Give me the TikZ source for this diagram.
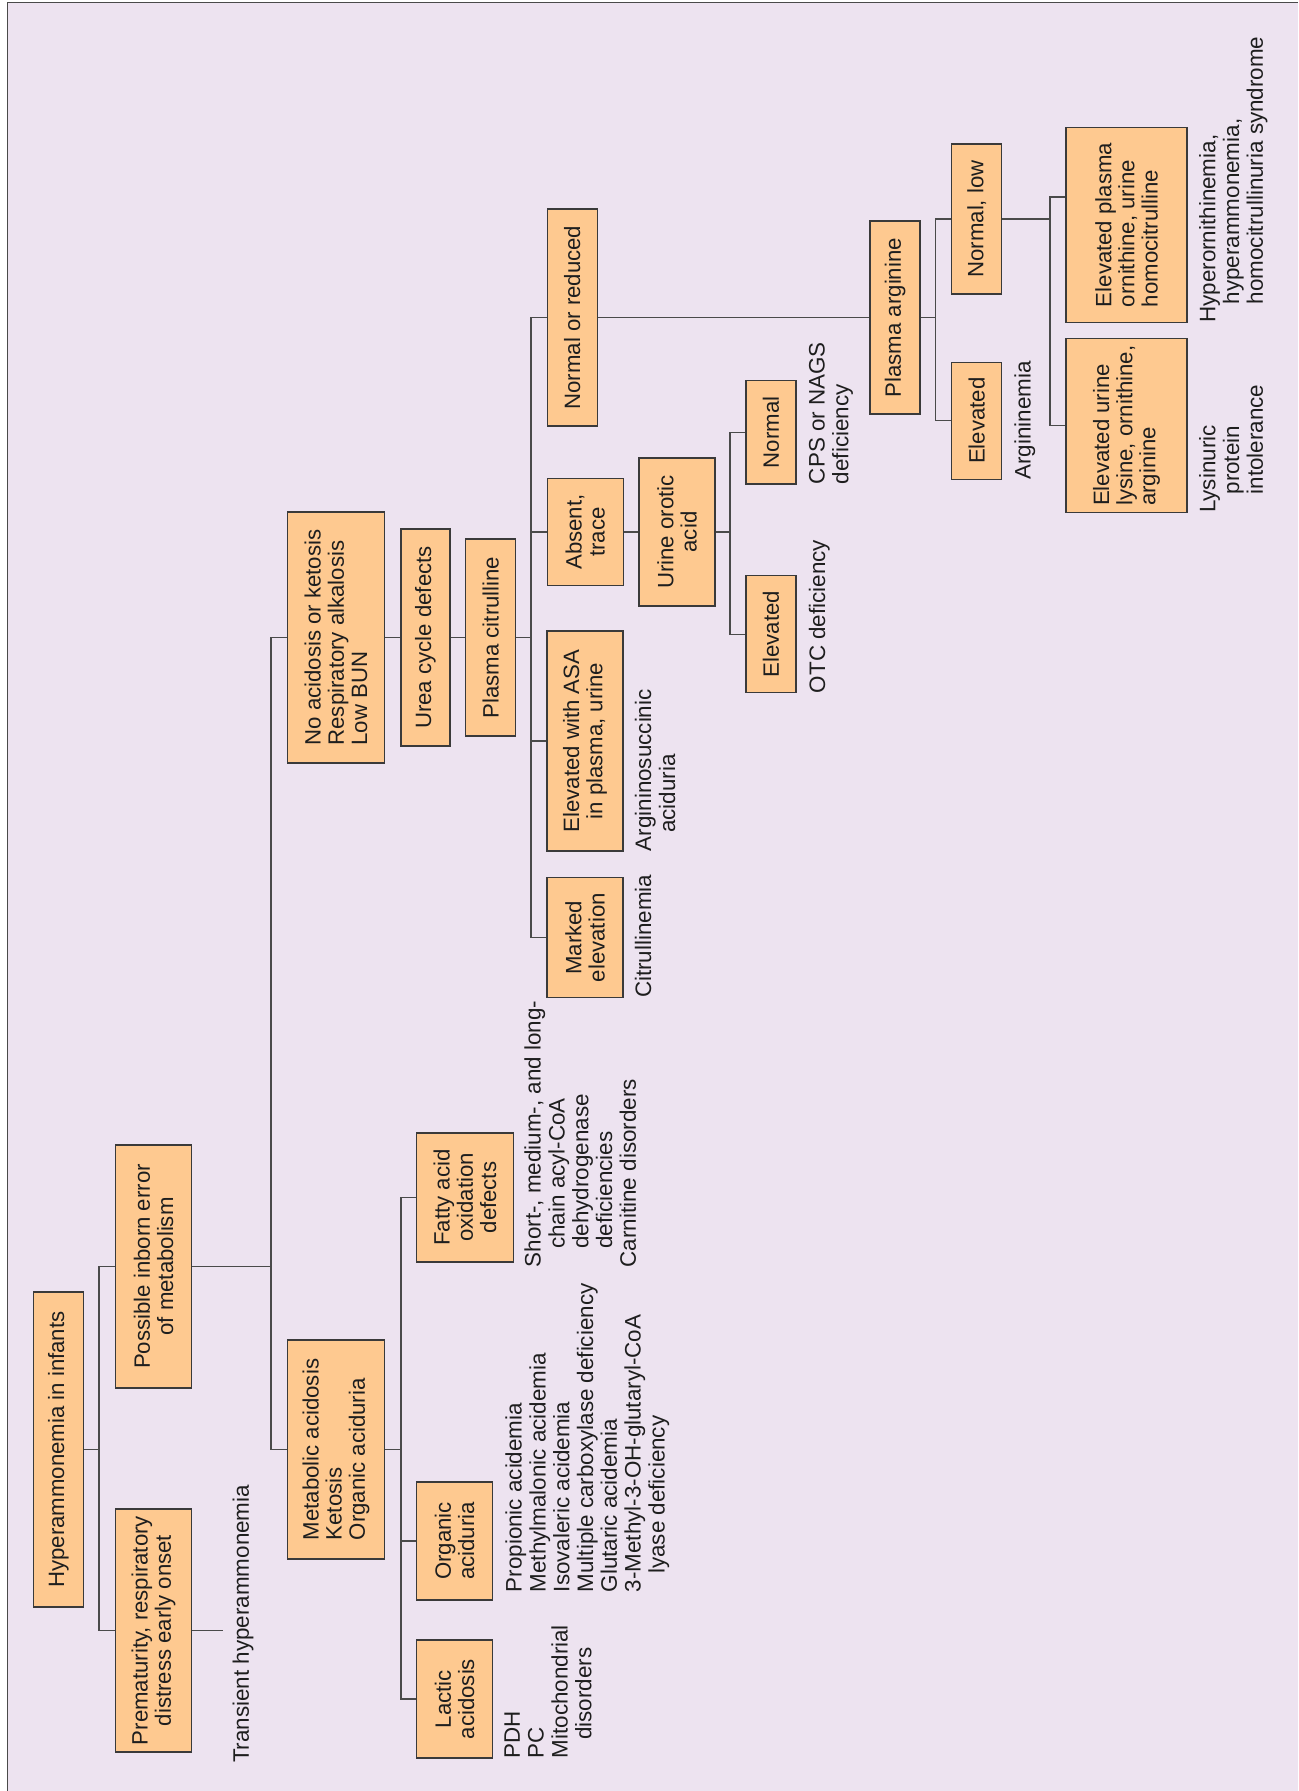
\documentclass[tikz,border=0pt]{standalone}
\usepackage{fontspec}
\setmainfont{Liberation Sans}
\usetikzlibrary{calc}
\definecolor{bgc}{HTML}{EDE3F0}
\definecolor{boxc}{HTML}{FEC990}
\definecolor{edgec}{HTML}{3A3A3A}
\definecolor{linec}{HTML}{4A4A4A}
\definecolor{framec}{HTML}{4A4A4A}
\definecolor{txtc}{HTML}{1E1E1E}
\newcommand\boxfont{\fontsize{11.1pt}{11.6pt}\selectfont}
\newcommand\lblfont{\fontsize{11.2pt}{11.9pt}\selectfont}
\newcommand\ind{\hspace*{9.25pt}}

\begin{document}
\begin{tikzpicture}[x=0.5pt,y=-0.5pt,
  box/.style={draw=edgec, fill=boxc, line width=0.6pt, rotate=90, inner sep=0pt,
              text=txtc, font=\boxfont, align=center},
  wh/.style 2 args={minimum height=#1*0.5pt, minimum width=#2*0.5pt},
  lbl/.style={rotate=90, anchor=north west, inner sep=0pt, align=left,
              text=txtc, font=\lblfont},
  link/.style={draw=linec, line width=0.6pt}]

% canvas and frame
\useasboundingbox (0,0) rectangle (1298,1791);
\fill[white] (0,0) rectangle (1298,1791);
\fill[bgc] (7.3,2.5) rectangle (1298,1791);
\draw[framec, line width=0.8pt] (7.3,1791) -- (7.3,2.5) -- (1298,2.5);

% decision boxes
\node[box, wh={50}{315}] (hyp) at (58.5,1449.5) {Hyperammonemia in infants};
\node[box, wh={76}{243}] (pie) at (153.5,1266.5) {Possible inborn error\\of metabolism};
\node[box, wh={76}{243}] (pre) at (153.5,1630.5) {Prematurity, respiratory\\distress early onset};
\node[box, wh={97}{251}, align=left] (noa) at (336,637.5) {No acidosis or ketosis\\Respiratory alkalosis\\Low BUN};
\node[box, wh={97}{219}, align=left] (met) at (336,1449.5) {Metabolic acidosis\\Ketosis\\Organic aciduria};
\node[box, wh={49}{217}] (ucd) at (425.5,637.5) {Urea cycle defects};
\node[box, wh={50}{197}] (pcit) at (490.6,637.5) {Plasma citrulline};
\node[box, wh={76}{118}] (lac) at (454.5,1699) {Lactic\\acidosis};
\node[box, wh={76}{118}] (org) at (454.5,1541) {Organic\\aciduria};
\node[box, wh={97}{129}] (fat) at (465,1197.5) {Fatty acid\\oxidation\\defects};
\node[box, wh={50}{217}] (nor) at (572.2,317.6) {Normal or reduced};
\node[box, wh={76}{107}] (abs) at (585.2,532) {Absent,\\trace};
\node[box, wh={76}{220}] (ela) at (585,741) {Elevated with ASA\\in plasma, urine};
\node[box, wh={76}{120}] (mar) at (585,937.7) {Marked\\elevation};
\node[box, wh={76}{148}] (uoa) at (677,532) {Urine orotic\\acid};
\node[box, wh={50}{103}] (nrm) at (771,432.4) {Normal};
\node[box, wh={50}{117}] (elo) at (771,634.3) {Elevated};
\node[box, wh={50}{193}] (par) at (895,317.6) {Plasma arginine};
\node[box, wh={50}{150}] (nlo) at (976.7,219) {Normal, low};
\node[box, wh={50}{117}] (ear) at (976.7,420.7) {Elevated};
\node[box, wh={121}{195}, align=left] (eop) at (1126.5,225) {Elevated plasma\\ornithine, urine\\homocitrulline};
\node[box, wh={121}{174}, align=left] (eul) at (1126.5,425.7) {Elevated urine\\lysine, ornithine,\\arginine};

% outcome labels
\node[lbl] (t0) at (232.3,1763.3) {Transient hyperammonemia};
\node[lbl] (t1) at ($(lac.south west)+(11,0)$) {PDH\\PC\\Mitochondrial\\\ind disorders};
\node[lbl] (t2) at ($(org.south west)+(12,-8)$) {Propionic acidemia\\Methylmalonic acidemia\\Isovaleric acidemia\\Multiple carboxylase deficiency\\Glutaric acidemia\\3-Methyl-3-OH-glutaryl-CoA\\\ind lyase deficiency};
\node[lbl] (t3) at ($(fat.south west)+(10,5)$) {Short-, medium-, and long-\\\ind chain acyl-CoA\\\ind dehydrogenase\\\ind deficiencies\\Carnitine disorders};
\node[lbl] (t4) at ($(mar.south west)+(11,0)$) {Citrullinemia};
\node[lbl] (t5) at ($(ela.south west)+(11,0)$) {Argininosuccinic\\\ind aciduria};
\node[lbl] (t6) at ($(nrm.south west)+(12,0)$) {CPS or NAGS\\deficiency};
\node[lbl] (t7) at ($(elo.south west)+(12,0)$) {OTC deficiency};
\node[lbl] (t8) at ($(ear.south west)+(11.6,0)$) {Argininemia};
\node[lbl] (t9) at ($(eop.south west)+(11,0)$) {Hyperornithinemia,\\\ind hyperammonemia,\\\ind homocitrullinuria syndrome};
\node[lbl] (t10) at ($(eul.south west)+(11,0)$) {Lysinuric\\\ind protein\\\ind intolerance};

% branch points
\coordinate (b1) at (99,1449.5);
\coordinate (b2) at (271,1266.5);
\coordinate (b3) at (531,637.5);
\coordinate (b4) at (730,532);
\coordinate (b5) at (935.7,317.6);
\coordinate (b6) at (1050,219);
\coordinate (b7) at (401,1449.5);
\coordinate (tend) at (223,1630.5);

% connectors
\draw[link] (hyp.south) -- (b1);
\draw[link] (pie.north) -| (b1);
\draw[link] (pre.north) -| (b1);
\draw[link] (pre.south) -- (tend);
\draw[link] (pie.south) -- (b2);
\draw[link] (noa.north) -| (b2);
\draw[link] (met.north) -| (b2);
\draw[link] (noa.south) -- (ucd.north);
\draw[link] (ucd.south) -- (pcit.north);
\draw[link] (pcit.south) -- (b3);
\draw[link] (nor.north) -| (b3);
\draw[link] (abs.north) -| (b3);
\draw[link] (ela.north) -| (b3);
\draw[link] (mar.north) -| (b3);
\draw[link] (abs.south) -- (uoa.north);
\draw[link] (uoa.south) -- (b4);
\draw[link] (nrm.north) -| (b4);
\draw[link] (elo.north) -| (b4);
\draw[link] (nor.south) -- (par.north);
\draw[link] (par.south) -- (b5);
\draw[link] (nlo.north) -| (b5);
\draw[link] (ear.north) -| (b5);
\draw[link] (nlo.south) -- (b6);
\draw[link] ($(eop.north)+(0,-28)$) -| (b6);
\draw[link] (eul.north) -| (b6);
\draw[link] (met.south) -- (b7);
\draw[link] (fat.north) -| (b7);
\draw[link] (org.north) -| (b7);
\draw[link] (lac.north) -| (b7);
\end{tikzpicture}
\end{document}
